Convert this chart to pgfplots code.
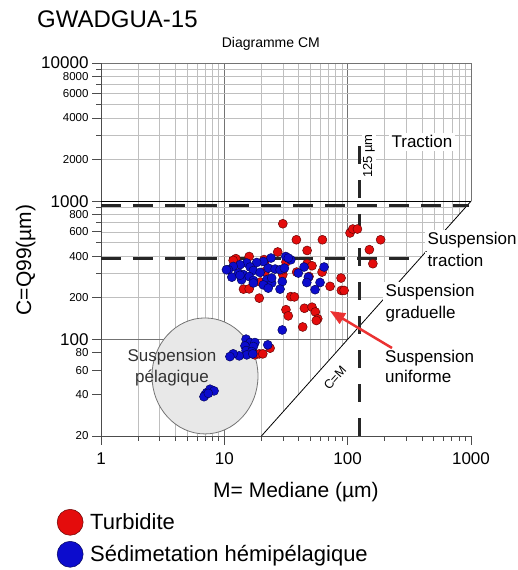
\documentclass[border=0pt]{standalone}
\usepackage{fontspec}
\setmainfont{Liberation Sans}
\usepackage{pgfplots}
\pgfplotsset{compat=1.18}
\usetikzlibrary{arrows.meta}
\definecolor{tred}{RGB}{228,12,12}
\definecolor{tblue}{RGB}{12,12,205}
\definecolor{arrred}{RGB}{235,50,50}
\begin{document}
\begin{tikzpicture}[x=1pt,y=1pt]
\useasboundingbox (-101,-134) rectangle (416,436);
\begin{axis}[
  at={(0,0)}, anchor=south west,
  scale only axis, width=370pt, height=373pt,
  xmode=log, ymode=log,
  xmin=1, xmax=1000, ymin=20, ymax=10000,
  axis lines*=left,
  clip=false,
  tick align=outside,
  major tick length=9pt, minor tick length=5pt,
  xtick={1,10,100,1000}, xticklabels={1,10,100,1000},
  ytick={100,1000,10000}, yticklabels={100,1000,10000},
  extra y ticks={20,40,60,80,200,400,600,800,2000,4000,6000,8000},
  extra y tick labels={20,40,60,80,200,400,600,800,2000,4000,6000,8000},
  extra y tick style={grid=none, yticklabel style={font=\fontsize{11.5}{12}\selectfont}},
  grid=both,
  major grid style={black!55, line width=0.8pt},
  minor grid style={black!25, line width=0.7pt},
  tick style={black!70, line width=0.8pt},
  axis line style={black!70, line width=0.8pt},
  tick label style={font=\fontsize{17}{18}\selectfont},
  xticklabel style={yshift=-4pt},
  title={Diagramme CM},
  title style={at={(axis description cs:0.459,1)}, anchor=base, yshift=9pt, inner sep=0pt, font=\fontsize{14}{16}\selectfont},
  xlabel={M= Mediane (µm)},
  xlabel style={at={(axis description cs:0.527,-0.166)}, anchor=base, inner sep=0pt, font=\fontsize{21}{22}\selectfont},
  ylabel={C=Q99(µm)},
  ylabel style={at={(axis description cs:-0.189,0.472)}, anchor=base, inner sep=0pt, font=\fontsize{21}{22}\selectfont},
  legend style={at={(-0.119,-0.196)}, anchor=north west, draw=none, fill=none, inner sep=0pt,
    nodes={inner sep=1pt}, row sep=6pt, column sep=6pt, font=\fontsize{22}{24}\selectfont},
  legend cell align=left,
  legend image post style={mark size=13pt},
]
% hide grid below C=M
\fill[white] (axis cs:20,20) -- (axis cs:1000,1000) -- (axis cs:1100,1000) -- (axis cs:1100,20) -- cycle;
\draw[black!70, line width=0.8pt] (axis cs:1,20) -- (axis cs:1000,20);
\draw[black, line width=1pt] (axis cs:1,1000) -- (axis cs:1000,1000);
% pelagic circle
\draw[fill=black!9, draw=black!55, line width=0.8pt] (axis cs:6.97,54.4) ellipse [x radius=53pt, y radius=58pt];
% C=M line
\draw[black, line width=0.8pt] (axis cs:20,20) -- (axis cs:1000,1000);
% dashed limits
\draw[black!85, line width=2.6pt, dash pattern=on 20pt off 12pt] (axis cs:1,928) -- (axis cs:960,928);
\draw[black!85, line width=2.6pt, dash pattern=on 20pt off 12pt] (axis cs:1,384) -- (axis cs:384,384);
\draw[black!85, line width=2.6pt, dash pattern=on 18pt off 16pt] (axis cs:125,20) -- (axis cs:125,3000);

\addplot[only marks, mark=*, mark size=4.5pt, mark options={fill=tred, draw=tred!45!black, line width=0.5pt}] coordinates {
(29.8,687) (38.4,526) (62.4,526) (46.9,440) (27.1,429) (15.9,398) (12.4,384) (11.8,373)
(21.3,366) (46.9,353) (51.4,341) (38.6,307) (62.0,307) (29.8,294) (48.6,285) (88.4,278)
(19.6,260) (14.3,231) (15.9,232) (72.0,242) (88.9,226) (93.5,226) (19.2,199) (34.6,204)
(37.0,203) (31.6,164) (33.0,148) (44.6,168) (51.4,171) (54.7,158) (57.2,141) (55.7,137)
(43.2,123) (21.4,310) (29.8,319) (104.5,589) (110,629) (120,629) (185,526) (150,446)
(160,353) (17.7,77.3) (19.2,78.6) (20.5,78.6) (23.5,86.4) (31.6,363) (21.0,378)
};
\addlegendentry{Turbidite}
\addplot[only marks, mark=*, mark size=4.5pt, mark options={fill=tblue, draw=tblue!45!black, line width=0.5pt}] coordinates {
(23.9,388) (31.5,398) (34.6,377) (20.7,366) (18.3,360) (15.2,357) (13.4,347) (11.8,337)
(10.8,319) (16.2,334) (17.2,315) (19.5,305) (22.7,328) (25.8,323) (28.3,319) (30.7,328)
(13.0,302) (14.3,294) (15.9,285) (11.5,282) (13.8,270) (17.2,267) (22.1,270) (24.2,256)
(29.5,262) (20.7,248) (22.7,235) (28.3,231) (17.2,256) (44.3,334) (64.4,334) (39.8,302)
(48.0,282) (46.6,258) (59.7,258) (54.4,229) (29.5,117) (13.4,291) (24.2,278) (33.0,388)
(10.4,319)
(15.0,100.4) (16.2,94.9) (17.7,94.9) (14.7,89.8) (17.2,88.8) (15.0,83.0) (16.7,81.6)
(15.2,77.3) (13.2,76.0) (11.8,78.6) (11.1,75.1) (22.5,91.3) (17.0,78.6)
(6.97,39.6) (7.20,41.2) (7.66,43.6) (8.25,42.4) (6.84,38.5) (7.42,40.7)
};
\addlegendentry{Sédimetation hémipélagique}
\end{axis}
% title
\node[anchor=base west, inner sep=0pt, font=\fontsize{24}{26}\selectfont] at (-64,408) {GWADGUA-15};
% annotations
\node[anchor=base, fill=white, inner sep=3pt, font=\fontsize{17}{18}\selectfont] at (321,288) {Traction};
\node[rotate=90, fill=white, inner sep=1.5pt, font=\fontsize{13}{14}\selectfont] at (268,280) {125 µm};
\node[anchor=base west, fill=white, inner sep=2.5pt, font=\fontsize{17}{18}\selectfont] at (324,191) {Suspension};
\node[anchor=base west, fill=white, inner sep=2.5pt, font=\fontsize{17}{18}\selectfont] at (324,169) {traction};
\node[anchor=base west, fill=white, inner sep=2.5pt, font=\fontsize{17}{18}\selectfont] at (282,139) {Suspension};
\node[anchor=base west, fill=white, inner sep=2.5pt, font=\fontsize{17}{18}\selectfont] at (282,117) {graduelle};
\node[anchor=base west, inner sep=0pt, font=\fontsize{17}{18}\selectfont] at (284,73) {Suspension};
\node[anchor=base west, inner sep=0pt, font=\fontsize{17}{18}\selectfont] at (284,53) {uniforme};
\node[anchor=base, inner sep=0pt, font=\fontsize{17}{18}\selectfont, text=black!80] at (71,74) {Suspension};
\node[anchor=base, inner sep=0pt, font=\fontsize{17}{18}\selectfont, text=black!80] at (71,53) {pélagique};
\node[rotate=48, inner sep=0pt, font=\fontsize{12.5}{14}\selectfont] at (234,58) {C=M};
\draw[-{Triangle[length=15pt,width=12pt]}, line width=2.5pt, arrred] (291,88) -- (229,125);
\end{tikzpicture}
\end{document}
